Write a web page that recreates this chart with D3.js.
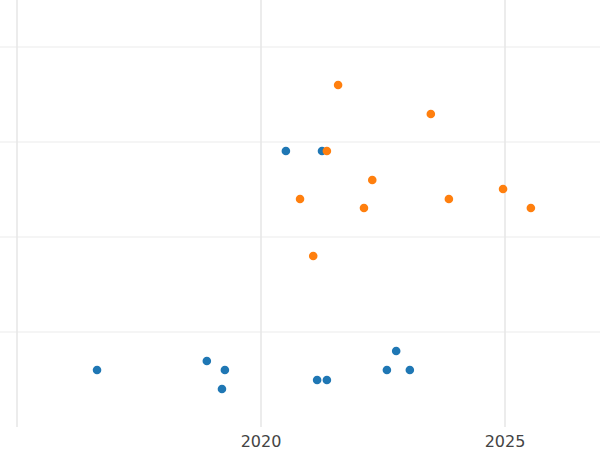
<!DOCTYPE html>
<html><head><meta charset="utf-8">
<script src="https://cdn.jsdelivr.net/npm/d3@7"></script>
<style>body{margin:0;background:#fff}</style></head>
<body><svg id="c" width="600" height="450"></svg>
<script>
const blueX=[2016.64,2018.89,2019.26,2019.2,2020.51,2021.25,2021.15,2021.35,2022.58,2022.77,2023.05];
const blueY=[0.6,0.695,0.6,0.4,2.905,2.905,0.495,0.495,0.6,0.8,0.6];
const orangeX=[2021.58,2023.48,2021.35,2022.28,2020.8,2022.11,2023.85,2024.96,2025.53,2021.07];
const orangeY=[3.6,3.295,2.905,2.6,2.4,2.305,2.4,2.505,2.305,1.8];
const xTicks=[2015,2020,2025];
const yTicks=[1,2,3,4];
const svg=d3.select("#c");
const x=d3.scaleLinear().domain([2015,2025]).range([17,505]);
const y=d3.scaleLinear().domain([0,4]).range([427,47]);
svg.selectAll(".hg").data(yTicks).join("line").attr("x1",0).attr("x2",600)
 .attr("y1",d=>y(d)).attr("y2",d=>y(d)).attr("stroke","#ebebeb").attr("stroke-width",1);
svg.selectAll(".vg").data(xTicks).join("line").attr("y1",0).attr("y2",427)
 .attr("x1",d=>x(d)).attr("x2",d=>x(d)).attr("stroke","#e6e6e6").attr("stroke-width",1.5);
svg.selectAll(".xt").data(xTicks.filter(d=>d>2015)).join("text").attr("x",d=>x(d)).attr("y",447)
 .attr("text-anchor","middle").attr("font-family","DejaVu Sans").attr("font-size",16).attr("fill","#444").text(d=>d);
function pts(X,Y,c){svg.append("g").selectAll("circle").data(X).join("circle")
 .attr("cx",d=>x(d)).attr("cy",(d,i)=>y(Y[i])).attr("r",4.3).attr("fill",c);}
pts(blueX,blueY,"#1f77b4");
pts(orangeX,orangeY,"#ff7f0e");
</script></body></html>
